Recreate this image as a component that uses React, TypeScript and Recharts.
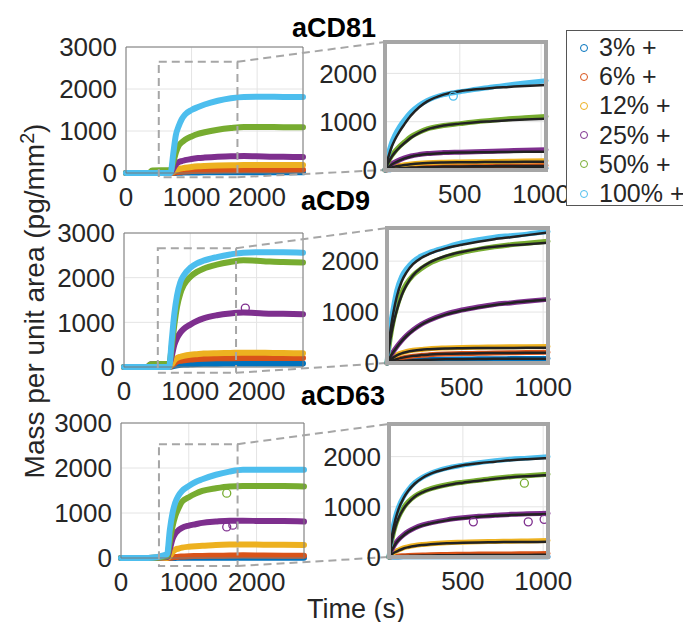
import React from 'react'
import {
  ComposedChart,
  Line,
  Scatter,
  XAxis,
  YAxis,
  CartesianGrid,
  ReferenceArea,
  ReferenceLine,
} from 'recharts'

// series
const concentrations = ['3%', '6%', '12%', '25%', '50%', '100%']
const seriesKeys = ['c3', 'c6', 'c12', 'c25', 'c50', 'c100']
const seriesColors = ['#0072BD', '#D95319', '#EDB120', '#7E2F8E', '#77AC30', '#4DBEEE']

// axes
const fullTimes = [0, 350, 400, 680, 720, 760, 800, 850, 900, 1000, 1100, 1200, 1400, 1600, 1800, 2100, 2400, 2700]
const zoomTimes = [40, 60, 80, 100, 130, 160, 200, 250, 300, 400, 500, 600, 700, 800, 900, 1030]
const fullXTicks = [0, 1000, 2000]
const fullYTicks = [0, 1000, 2000, 3000]
const zoomXTicks = [500, 1000]
const zoomYTicks = [0, 1000, 2000]

// aCD81, full time course
const cd81Full3 = [0, 0, 0, 0, 0, 2, 5, 8, 10, 12, 14, 15, 17, 18, 20, 20, 18, 15]
const cd81Full6 = [0, 0, 0, 0, 5, 15, 25, 32, 38, 45, 52, 56, 62, 66, 70, 72, 74, 75]
const cd81Full12 = [0, 0, 0, 0, 30, 70, 95, 110, 125, 145, 158, 166, 176, 182, 188, 190, 190, 190]
const cd81Full25 = [0, 0, 0, 0, 100, 200, 255, 285, 305, 335, 355, 368, 388, 400, 402, 392, 386, 380]
const cd81Full50 = [0, 0, 60, 70, 250, 480, 640, 730, 790, 870, 930, 970, 1030, 1070, 1095, 1095, 1090, 1090]
const cd81Full100 = [0, 0, 0, 0, 450, 900, 1100, 1280, 1390, 1500, 1570, 1630, 1720, 1780, 1810, 1815, 1812, 1810]

// aCD9, full time course
const cd9Full3 = [0, 0, 0, 0, 10, 25, 40, 48, 54, 60, 66, 70, 75, 78, 80, 80, 80, 78]
const cd9Full6 = [0, 0, 0, 0, 30, 80, 120, 140, 150, 170, 178, 185, 195, 198, 200, 202, 200, 200]
const cd9Full12 = [0, 0, 0, 0, 60, 150, 200, 230, 250, 275, 288, 300, 310, 315, 320, 318, 312, 310]
const cd9Full25 = [0, 0, 60, 70, 250, 500, 650, 770, 850, 950, 1030, 1090, 1160, 1200, 1220, 1200, 1190, 1180]
const cd9Full50 = [0, 0, 60, 70, 450, 950, 1350, 1650, 1830, 2020, 2130, 2200, 2290, 2350, 2390, 2370, 2350, 2340]
const cd9Full100 = [0, 0, 0, 0, 600, 1200, 1600, 1900, 2050, 2220, 2320, 2380, 2460, 2520, 2560, 2570, 2570, 2560]

// aCD63, full time course
const cd63Full3 = [0, 0, 0, 0, 0, 0, 2, 4, 5, 6, 6, 6, 5, 5, 5, 4, 4, 4]
const cd63Full6 = [0, 0, 0, 0, 5, 12, 20, 28, 32, 40, 44, 47, 50, 55, 60, 55, 52, 50]
const cd63Full12 = [0, 0, 0, 0, 40, 130, 185, 210, 230, 250, 262, 270, 290, 298, 300, 295, 292, 290]
const cd63Full25 = [0, 0, 0, 20, 200, 420, 540, 620, 670, 720, 750, 780, 810, 830, 830, 820, 820, 810]
const cd63Full50 = [0, 0, 0, 40, 380, 700, 930, 1110, 1250, 1350, 1430, 1490, 1550, 1590, 1600, 1600, 1600, 1590]
const cd63Full100 = [0, 0, 0, 80, 620, 1000, 1230, 1390, 1490, 1600, 1690, 1750, 1850, 1920, 1960, 1960, 1960, 1960]

// aCD81, zoomed data and fits
const cd81Zoom3 = [0, 5, 8, 11, 15, 18, 21, 24, 26, 29, 31, 32, 33, 35, 36, 38]
const cd81Zoom6 = [0, 12, 22, 28, 38, 44, 52, 58, 64, 72, 78, 82, 85, 88, 90, 95]
const cd81Zoom12 = [0, 35, 55, 75, 95, 110, 125, 140, 150, 160, 165, 170, 175, 180, 185, 190]
const cd81Zoom25 = [0, 70, 120, 160, 210, 250, 290, 320, 340, 360, 370, 380, 390, 400, 410, 420]
const cd81Zoom50 = [0, 170, 290, 380, 490, 580, 690, 780, 850, 920, 960, 1000, 1030, 1060, 1080, 1110]
const cd81Zoom100 = [0, 320, 560, 720, 900, 1040, 1200, 1340, 1440, 1560, 1620, 1670, 1720, 1760, 1800, 1850]
const cd81Fit3 = [0, 5, 8, 10, 14, 17, 20, 23, 25, 28, 30, 31, 32, 33, 34, 35]
const cd81Fit6 = [0, 10, 20, 25, 35, 40, 50, 55, 60, 70, 75, 78, 80, 82, 84, 85]
const cd81Fit12 = [0, 30, 50, 70, 90, 105, 120, 135, 145, 155, 160, 163, 166, 168, 169, 170]
const cd81Fit25 = [0, 60, 110, 150, 200, 240, 280, 310, 330, 350, 360, 365, 370, 375, 378, 380]
const cd81Fit50 = [0, 150, 270, 360, 470, 560, 670, 770, 840, 920, 960, 990, 1010, 1030, 1045, 1060]
const cd81Fit100 = [0, 260, 470, 620, 800, 950, 1130, 1300, 1420, 1560, 1630, 1670, 1700, 1720, 1740, 1760]

// aCD9, zoomed data and fits
const cd9Zoom3 = [0, 12, 22, 30, 40, 47, 55, 62, 67, 74, 78, 81, 84, 86, 88, 90]
const cd9Zoom6 = [0, 25, 50, 70, 95, 115, 135, 150, 160, 175, 185, 190, 195, 200, 205, 210]
const cd9Zoom12 = [0, 70, 120, 160, 200, 225, 250, 265, 280, 295, 305, 310, 315, 318, 320, 325]
const cd9Zoom25 = [0, 130, 230, 320, 440, 540, 650, 760, 840, 960, 1040, 1100, 1150, 1180, 1210, 1250]
const cd9Zoom50 = [0, 500, 850, 1100, 1380, 1560, 1720, 1850, 1950, 2080, 2170, 2230, 2280, 2320, 2350, 2390]
const cd9Zoom100 = [0, 700, 1100, 1420, 1700, 1850, 1990, 2100, 2170, 2270, 2360, 2420, 2470, 2500, 2530, 2580]
const cd9Fit3 = [0, 10, 20, 28, 38, 45, 53, 60, 65, 72, 76, 79, 81, 83, 84, 85]
const cd9Fit6 = [0, 30, 55, 75, 100, 120, 140, 155, 165, 180, 188, 193, 196, 198, 199, 200]
const cd9Fit12 = [0, 60, 110, 150, 190, 215, 240, 260, 270, 285, 290, 293, 295, 296, 297, 298]
const cd9Fit25 = [0, 120, 220, 310, 430, 530, 640, 750, 830, 950, 1030, 1090, 1140, 1180, 1210, 1240]
const cd9Fit50 = [0, 450, 780, 1030, 1330, 1530, 1720, 1870, 1970, 2100, 2180, 2240, 2280, 2310, 2330, 2360]
const cd9Fit100 = [0, 600, 1000, 1300, 1600, 1780, 1940, 2060, 2140, 2250, 2320, 2380, 2430, 2470, 2510, 2560]

// aCD63, zoomed data and fits
const cd63Zoom3 = [0, 0, 0, 2, 3, 3, 4, 5, 5, 5, 6, 6, 6, 6, 6, 6]
const cd63Zoom6 = [0, 10, 15, 20, 25, 30, 35, 40, 45, 50, 55, 58, 60, 62, 65, 70]
const cd63Zoom12 = [0, 65, 110, 140, 180, 205, 230, 250, 265, 285, 295, 305, 310, 315, 320, 330]
const cd63Zoom25 = [0, 160, 270, 350, 440, 510, 580, 640, 680, 740, 780, 810, 830, 850, 860, 870]
const cd63Zoom50 = [0, 380, 630, 800, 980, 1100, 1210, 1300, 1360, 1440, 1490, 1530, 1570, 1600, 1620, 1650]
const cd63Zoom100 = [0, 500, 800, 1000, 1200, 1340, 1480, 1590, 1670, 1770, 1830, 1880, 1920, 1950, 1970, 2000]
const cd63Fit3 = [0, 0, 1, 1, 2, 2, 3, 3, 4, 4, 4, 5, 5, 5, 5, 5]
const cd63Fit6 = [0, 5, 10, 13, 18, 22, 26, 30, 32, 36, 38, 39, 40, 41, 42, 43]
const cd63Fit12 = [0, 60, 100, 130, 170, 195, 220, 240, 255, 275, 285, 290, 295, 298, 300, 302]
const cd63Fit25 = [0, 150, 260, 340, 430, 500, 570, 630, 670, 730, 770, 800, 820, 835, 845, 855]
const cd63Fit50 = [0, 350, 600, 780, 960, 1080, 1200, 1290, 1350, 1430, 1480, 1520, 1560, 1590, 1610, 1630]
const cd63Fit100 = [0, 450, 750, 960, 1170, 1320, 1460, 1580, 1660, 1760, 1830, 1870, 1900, 1930, 1950, 1970]

// stray points (open circles) away from the main band
const cd9FullOddTimes = [1830]
const cd9FullOddValues = [1320]
const cd9FullOddSeries = [3]
const cd63FullOddTimes = [1560, 1650, 1560]
const cd63FullOddValues = [690, 730, 1440]
const cd63FullOddSeries = [3, 3, 4]
const cd81ZoomOddTimes = [460]
const cd81ZoomOddValues = [1530]
const cd81ZoomOddSeries = [5]
const cd63ZoomOddTimes = [565, 907, 1006, 883]
const cd63ZoomOddValues = [700, 700, 750, 1470]
const cd63ZoomOddSeries = [3, 3, 3, 4]

const buildFull = (cols: number[][]) =>
  fullTimes.map((t, i) => {
    const row: Record<string, number> = { t }
    cols.forEach((c, k) => (row[seriesKeys[k]] = c[i]))
    return row
  })

const buildZoom = (cols: number[][], fits: number[][]) =>
  zoomTimes.map((t, i) => {
    const row: Record<string, number> = { t }
    cols.forEach((c, k) => (row['d' + seriesKeys[k]] = c[i]))
    fits.forEach((c, k) => (row['f' + seriesKeys[k]] = c[i]))
    return row
  })

// one point list per series so each gets its own colour
const buildOdd = (times: number[], values: number[], series: number[]) =>
  seriesKeys.map((_, k) =>
    times.map((t, i) => ({ t, v: values[i], s: series[i] })).filter((p) => p.s === k)
  )

type Geo = { left: number; right: number; top: number; bottom: number }

const rows = [
  {
    title: 'aCD81',
    titlePos: { left: 292, top: 15 },
    full: buildFull([cd81Full3, cd81Full6, cd81Full12, cd81Full25, cd81Full50, cd81Full100]),
    zoom: buildZoom(
      [cd81Zoom3, cd81Zoom6, cd81Zoom12, cd81Zoom25, cd81Zoom50, cd81Zoom100],
      [cd81Fit3, cd81Fit6, cd81Fit12, cd81Fit25, cd81Fit50, cd81Fit100]
    ),
    fullOdd: buildOdd([], [], []),
    zoomOdd: buildOdd(cd81ZoomOddTimes, cd81ZoomOddValues, cd81ZoomOddSeries),
    fullGeo: { left: 126, right: 303, top: 47, bottom: 173 },
    zoomGeo: { left: 385, right: 546, top: 42, bottom: 170 },
    boxX: [500, 1700],
    boxY: [-100, 2650],
  },
  {
    title: 'aCD9',
    titlePos: { left: 301, top: 188 },
    full: buildFull([cd9Full3, cd9Full6, cd9Full12, cd9Full25, cd9Full50, cd9Full100]),
    zoom: buildZoom(
      [cd9Zoom3, cd9Zoom6, cd9Zoom12, cd9Zoom25, cd9Zoom50, cd9Zoom100],
      [cd9Fit3, cd9Fit6, cd9Fit12, cd9Fit25, cd9Fit50, cd9Fit100]
    ),
    fullOdd: buildOdd(cd9FullOddTimes, cd9FullOddValues, cd9FullOddSeries),
    zoomOdd: buildOdd([], [], []),
    fullGeo: { left: 124, right: 303, top: 233, bottom: 367 },
    zoomGeo: { left: 387, right: 548, top: 228, bottom: 363 },
    boxX: [510, 1690],
    boxY: [-130, 2660],
  },
  {
    title: 'aCD63',
    titlePos: { left: 301, top: 383 },
    full: buildFull([cd63Full3, cd63Full6, cd63Full12, cd63Full25, cd63Full50, cd63Full100]),
    zoom: buildZoom(
      [cd63Zoom3, cd63Zoom6, cd63Zoom12, cd63Zoom25, cd63Zoom50, cd63Zoom100],
      [cd63Fit3, cd63Fit6, cd63Fit12, cd63Fit25, cd63Fit50, cd63Fit100]
    ),
    fullOdd: buildOdd(cd63FullOddTimes, cd63FullOddValues, cd63FullOddSeries),
    zoomOdd: buildOdd(cd63ZoomOddTimes, cd63ZoomOddValues, cd63ZoomOddSeries),
    fullGeo: { left: 121, right: 304, top: 423, bottom: 558 },
    zoomGeo: { left: 389, right: 548, top: 424, bottom: 557 },
    boxX: [560, 1720],
    boxY: [-180, 2530],
  },
]

const TEXT = '#262626'
const tickStyle = { fill: TEXT, fontSize: 26 }
const FULL_W = 400

const openCircle = (color: string) => (p: any) =>
  <circle cx={p.cx} cy={p.cy} r={4} fill="none" stroke={color} strokeWidth={1.3} />

const oddScatters = (odd: any[][]) =>
  odd.map((pts, k) =>
    pts.length ? (
      <Scatter
        key={'o' + k}
        data={pts}
        dataKey="v"
        shape={openCircle(seriesColors[k])}
        isAnimationActive={false}
      />
    ) : null
  )

const FullPanel = ({ data, odd, g, z, boxX, boxY }: { data: any[]; odd: any[][]; g: Geo; z: Geo; boxX: number[]; boxY: number[] }) => {
  const height = g.bottom - g.top + 85
  // connector end points: corners of the zoomed panel, in this panel's units
  const connX = ((z.left - g.left) / (g.right - g.left)) * 2700
  const yPer = 3000 / (g.bottom - g.top)
  const connTop = (g.bottom - z.top) * yPer
  const connBot = (g.bottom - z.bottom) * yPer
  const dash = { stroke: '#a6a6a6', strokeWidth: 2, strokeDasharray: '8 5' }
  return (
    <div style={{ position: 'absolute', left: 0, top: g.top - 40 }}>
      <ComposedChart
        width={FULL_W}
        height={height}
        data={data}
        margin={{ top: 40, right: FULL_W - g.right, bottom: 15, left: 0 }}
      >
        <CartesianGrid stroke="#e4e4e4" />
        <XAxis
          type="number"
          dataKey="t"
          domain={[0, 2700]}
          ticks={fullXTicks}
          interval={0}
          axisLine={false}
          tickLine={false}
          tick={tickStyle}
          tickMargin={9}
          height={30}
        />
        <YAxis
          type="number"
          domain={[0, 3000]}
          ticks={fullYTicks}
          interval={0}
          axisLine={false}
          tickLine={false}
          tick={tickStyle}
          tickMargin={3}
          width={g.left}
        />
        {seriesKeys.map((k, i) => (
          <Line
            key={k}
            type="monotone"
            dataKey={k}
            stroke={seriesColors[i]}
            strokeWidth={6}
            strokeLinecap="round"
            dot={false}
            isAnimationActive={false}
          />
        ))}
        {oddScatters(odd)}
        <ReferenceArea x1={0} x2={2700} y1={0} y2={3000} fill="none" stroke="#7a7a7a" strokeWidth={1} ifOverflow="visible" zIndex={900} />
        <ReferenceArea x1={boxX[0]} x2={boxX[1]} y1={boxY[0]} y2={boxY[1]} fill="none" {...dash} ifOverflow="visible" zIndex={900} />
        <ReferenceLine segment={[{ x: boxX[1], y: boxY[1] }, { x: connX, y: connTop }]} {...dash} ifOverflow="visible" zIndex={900} />
        <ReferenceLine segment={[{ x: boxX[1], y: boxY[0] }, { x: connX, y: connBot }]} {...dash} ifOverflow="visible" zIndex={900} />
      </ComposedChart>
    </div>
  )
}

const ZoomPanel = ({ data, odd, g }: { data: any[]; odd: any[][]; g: Geo }) => {
  const width = g.right - 300 + 30
  const height = g.bottom - g.top + 85
  return (
    <div style={{ position: 'absolute', left: 300, top: g.top - 40 }}>
      <ComposedChart width={width} height={height} data={data} margin={{ top: 40, right: 30, bottom: 15, left: 0 }}>
        <CartesianGrid stroke="#e4e4e4" />
        <XAxis
          type="number"
          dataKey="t"
          domain={[40, 1030]}
          ticks={zoomXTicks}
          interval={0}
          axisLine={false}
          tickLine={false}
          tick={tickStyle}
          tickMargin={9}
          height={30}
        />
        <YAxis
          type="number"
          domain={[0, 2650]}
          ticks={zoomYTicks}
          interval={0}
          axisLine={false}
          tickLine={false}
          tick={tickStyle}
          width={g.left - 300}
        />
        {seriesKeys.map((k, i) => (
          <Line
            key={'d' + k}
            type="monotone"
            dataKey={'d' + k}
            stroke={seriesColors[i]}
            strokeWidth={5}
            strokeLinecap="round"
            dot={false}
            isAnimationActive={false}
          />
        ))}
        {oddScatters(odd)}
        {seriesKeys.map((k) => (
          <Line
            key={'f' + k}
            type="monotone"
            dataKey={'f' + k}
            stroke="#222"
            strokeWidth={2.5}
            dot={false}
            isAnimationActive={false}
          />
        ))}
        <ReferenceArea x1={40} x2={1030} y1={0} y2={2650} fill="none" stroke="#a6a6a6" strokeWidth={4} ifOverflow="visible" zIndex={900} />
      </ComposedChart>
    </div>
  )
}

export default function App() {
  return (
    <div
      style={{
        position: 'absolute',
        left: 0,
        top: 0,
        width: 683,
        height: 622,
        overflow: 'hidden',
        background: '#fff',
        fontFamily: '"Liberation Sans", Arial, sans-serif',
        color: TEXT,
      }}
    >
      {rows.map((r) => (
        <React.Fragment key={r.title}>
          <FullPanel data={r.full} odd={r.fullOdd} g={r.fullGeo} z={r.zoomGeo} boxX={r.boxX} boxY={r.boxY} />
          <ZoomPanel data={r.zoom} odd={r.zoomOdd} g={r.zoomGeo} />
          <div
            style={{
              position: 'absolute',
              left: r.titlePos.left,
              top: r.titlePos.top,
              fontSize: 27,
              lineHeight: '27px',
              fontWeight: 'bold',
              color: '#000',
              whiteSpace: 'nowrap',
            }}
          >
            {r.title}
          </div>
        </React.Fragment>
      ))}

      <div
        style={{
          position: 'absolute',
          left: 35,
          top: 301,
          transform: 'translate(-50%, -50%) rotate(-90deg)',
          fontSize: 28,
          whiteSpace: 'nowrap',
        }}
      >
        Mass per unit area (pg/mm<sup style={{ fontSize: '0.7em', lineHeight: 0 }}>2</sup>)
      </div>

      <div
        style={{
          position: 'absolute',
          left: 356,
          top: 609,
          transform: 'translate(-50%, -50%)',
          fontSize: 27,
          whiteSpace: 'nowrap',
        }}
      >
        Time (s)
      </div>

      <div
        style={{
          position: 'absolute',
          left: 566,
          top: 30,
          width: 130,
          height: 176,
          border: '1px solid #555',
          background: '#fff',
          boxSizing: 'border-box',
          paddingTop: 2,
        }}
      >
        {concentrations.map((c, i) => (
          <div key={c} style={{ height: 29.2, display: 'flex', alignItems: 'center', fontSize: 25 }}>
            <span
              style={{
                display: 'inline-block',
                width: 6,
                height: 6,
                borderRadius: '50%',
                border: `1.3px solid ${seriesColors[i]}`,
                marginLeft: 13,
                marginRight: 11,
              }}
            />
            <span style={{ whiteSpace: 'nowrap' }}>{c} +</span>
          </div>
        ))}
      </div>
    </div>
  )
}
